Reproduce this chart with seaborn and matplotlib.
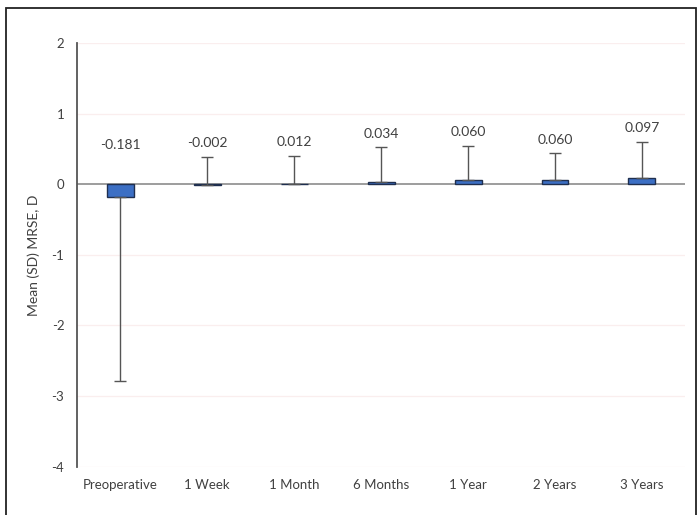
import numpy as np
import pandas as pd
import matplotlib
matplotlib.use("Agg")
import matplotlib.pyplot as plt
import seaborn as sns
from matplotlib.patches import Rectangle

# values
visits = ["Preoperative", "1 Week", "1 Month", "6 Months", "1 Year", "2 Years", "3 Years"]
mean_mrse = [-0.181, -0.002, 0.012, 0.034, 0.060, 0.060, 0.097]
sd_down = [2.61, 0, 0, 0, 0, 0, 0]
sd_up = [0, 0.39, 0.39, 0.49, 0.49, 0.38, 0.50]
labels = ["-0.181", "-0.002", "0.012", "0.034", "0.060", "0.060", "0.097"]

df = pd.DataFrame({"visit": visits, "mrse": mean_mrse})

sns.set_style("white")
plt.rcParams["font.family"] = ["Lato", "DejaVu Sans"]
plt.rcParams["axes.unicode_minus"] = False
text_col = "#404040"

fig = plt.figure(figsize=(6.98, 5.15), dpi=100)
ax = fig.add_axes([0.110, 0.094, 0.872, 0.822])

# faint gridlines
for v in [2, 1, -1, -2, -3, -4]:
    ax.axhline(v, color="#faeeee", lw=0.9, zorder=0)

sns.barplot(data=df, x="visit", y="mrse", color="#3c6fc4", edgecolor="#1f2f4f",
            linewidth=1.0, width=0.31, saturation=1, ax=ax, zorder=2)

ax.axhline(0, color="#8c8c8c", lw=1.2, zorder=1)

x = np.arange(len(visits))
ax.errorbar(x, mean_mrse, yerr=[sd_down, sd_up], fmt="none", ecolor="#555555",
            elinewidth=1.0, capsize=4, capthick=1.0, zorder=3)

# value labels above each bar / error bar
for i in range(len(visits)):
    top = max(mean_mrse[i] + sd_up[i], 0.36)
    ax.text(x[i], top + 0.11, labels[i], ha="center", va="bottom",
            fontsize=10, color=text_col)

ax.set_ylim(-4, 2)
ax.set_xlim(-0.5, len(visits) - 0.5)
ax.set_yticks([2, 1, 0, -1, -2, -3, -4])
ax.tick_params(axis="both", length=0, labelsize=9.5, colors=text_col, pad=9)
ax.set_xlabel("")
ax.set_ylabel("Mean (SD) MRSE, D", fontsize=10, color=text_col, labelpad=8)

for s in ["top", "right", "bottom"]:
    ax.spines[s].set_visible(False)
ax.spines["left"].set_color("#555555")
ax.spines["left"].set_linewidth(1.3)

# outer frame of the figure
fig.patches.append(Rectangle((6 / 698, -0.05), 690 / 698, 1.05 - 8 / 515,
                             transform=fig.transFigure, fill=False,
                             edgecolor="#222222", lw=1.3))

fig.savefig("out.png", dpi=100)
